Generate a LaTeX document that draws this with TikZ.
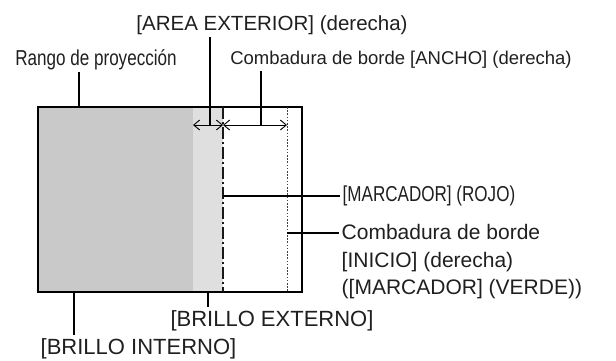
\documentclass[tikz,border=0pt]{standalone}
\usepackage{fontspec}
\setmainfont{Liberation Sans}
\newfontfamily\narrowfont[FakeStretch=0.79]{Liberation Sans}
\usetikzlibrary{arrows.meta,positioning}

\begin{document}
\begin{tikzpicture}[
    x=1pt, y=-1pt,
    lbl/.style={inner sep=2.5pt, text=black!88, font=\fontsize{20.5}{27.5}\selectfont},
    biglbl/.style={lbl, font=\fontsize{22}{27.5}\selectfont},
    smalllbl/.style={lbl, font=\fontsize{18.5}{24}\selectfont},
    narrowlbl/.style={lbl, font=\narrowfont\fontsize{21.6}{24}\selectfont},
    lead/.style={line width=1.1pt},
    dimarr/.style={{Straight Barb[length=6pt,width=10pt]}-{Straight Barb[length=6pt,width=10pt]}, line width=0.9pt},
    redmark/.style={line width=2.2pt, black!90, dash pattern=on 12pt off 3pt on 2pt off 3pt},
    greenmark/.style={line width=1pt, black!75, dash pattern=on 1.6pt off 1.6pt}
]
\useasboundingbox (0,0) rectangle (616,360);

% projection range with the two brightness zones
\fill[gray!42] (38,107) rectangle (193,292);
\fill[gray!25] (193,107) rectangle (223,292);
\draw[line width=1.4pt] (38,107) rectangle (302,292);

% markers
\coordinate (redtop) at (223,107);
\coordinate (redbot) at (223,292);
\coordinate (greentop) at (287,107);
\coordinate (greenbot) at (287,292);
\draw[redmark] (redtop) -- (redbot);
\draw[greenmark] (greentop) -- (greenbot);

% width arrows
\coordinate (dimL) at (193,125);
\coordinate (dimM) at (223,125);
\coordinate (dimR) at (287,125);
\draw[dimarr] (dimL) -- (dimM);
\draw[dimarr] (dimM) -- (dimR);

% labels
\node[lbl, anchor=base] (area) at (272,30) {[AREA EXTERIOR] (derecha)};
\node[narrowlbl, anchor=base] (rango) at (96,65) {Rango de proyección};
\node[smalllbl, anchor=base] (ancho) at (401,64) {Combadura de borde [ANCHO] (derecha)};
\node[narrowlbl, anchor=west] (rojo) at (340,196) {[MARCADOR] (ROJO)};
\node[lbl, anchor=north west, align=left, font=\fontsize{21}{27.5}\selectfont] (verde) at (339,222) {Combadura de borde\\{[INICIO] (derecha)}\\{([MARCADOR] (VERDE))}};
\node[biglbl, anchor=base] (externo) at (272,326) {[BRILLO EXTERNO]};
\node[biglbl, anchor=base west] (interno) at (38,354) {[BRILLO INTERNO]};

% leader lines
\coordinate (areaP) at (210,125);
\coordinate (rangoP) at (79,107);
\coordinate (anchoP) at (261,125);
\coordinate (rojoP) at (223,196);
\coordinate (verdeP) at (287,233);
\coordinate (externoP) at (208,292);
\coordinate (internoP) at (74,292);
\draw[lead] (area.south -| areaP) -- (areaP);
\draw[lead] (rango.south -| rangoP) -- (rangoP);
\draw[lead] (ancho.south -| anchoP) -- (anchoP);
\draw[lead] (rojoP) -- (rojoP -| rojo.west);
\draw[lead] (verdeP) -- (verdeP -| verde.west);
\draw[lead] (externoP) -- (externoP |- externo.north);
\draw[lead] (internoP) -- (internoP |- interno.north);
\end{tikzpicture}
\end{document}
